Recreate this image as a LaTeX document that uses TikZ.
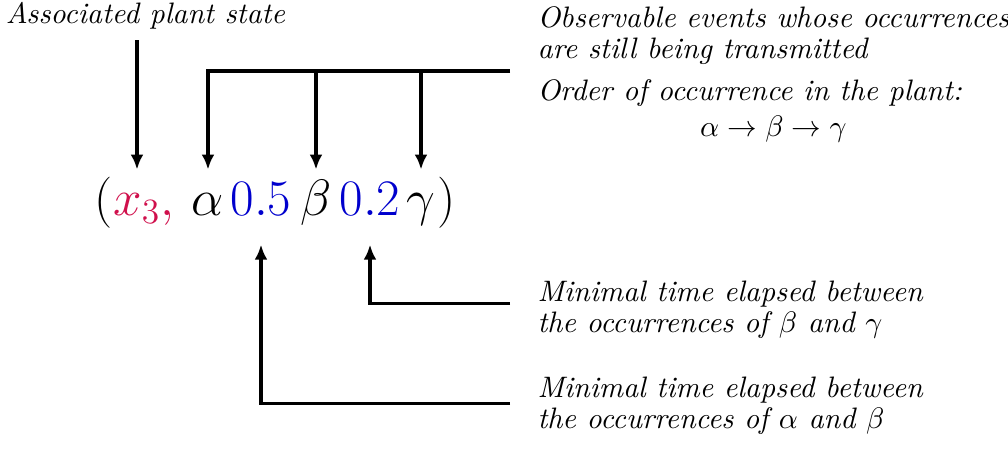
\documentclass[tikz,border=0pt]{standalone}
\usetikzlibrary{arrows.meta}
\definecolor{statecol}{RGB}{208,16,76}
\definecolor{timecol}{RGB}{0,0,205}
\tikzset{>={Latex[length=5pt,width=4.3pt]},
arr/.style={->,line width=1.15pt},
lbl/.style={font={\itshape\fontsize{10}{10.5}\selectfont}},
sym/.style={anchor=base,inner xsep=0pt,inner ysep=4pt,text height=11.5pt,text depth=5.5pt,
  font={\fontsize{16.8}{20}\selectfont}},
}
\begin{document}
\begin{tikzpicture}[x=0.3378pt,y=-0.3378pt]
\useasboundingbox (0,0) rectangle (1008,450);
\node[sym] (lp) at (104,216) {$($};
\node[sym,text=statecol] (x3) at (137,216) {$x_3$};
\node[sym,text=statecol] (cm) at (167,216) {$,$};
\node[sym] (al) at (208,216) {$\alpha$};
\node[sym,text=timecol] (n05) at (261,216) {$0.5$};
\node[sym] (be) at (316,216) {$\beta$};
\node[sym,text=timecol] (n02) at (370,216) {$0.2$};
\node[sym] (ga) at (421,216) {$\gamma$};
\node[sym] (rp) at (447,216) {$)$};

\node[lbl,anchor=base] (state) at (145.5,24) {Associated plant state};
\node[lbl,anchor=west,inner xsep=9.1pt,inner ysep=0pt] (obs) at (510,76)
  {\begin{tabular}{@{}l@{}}
   Observable events whose occurrences\\
   are still being transmitted\\[3.7pt]
   Order of occurrence in the plant:\\[1.7pt]
   \multicolumn{1}{@{}c@{}}{$\alpha\rightarrow\beta\rightarrow\gamma$}
   \end{tabular}};
\node[lbl,anchor=west,align=left,inner xsep=9.1pt] (gapbg) at (510,310.1)
  {Minimal time elapsed between\\the occurrences of $\beta$ and $\gamma$};
\node[lbl,anchor=west,align=left,inner xsep=9.1pt] (gapab) at (510,406.1)
  {Minimal time elapsed between\\the occurrences of $\alpha$ and $\beta$};
\coordinate (bar) at ([yshift=1.7pt]obs.west);

\draw[arr] (state.south -| x3.north) -- (x3.north);
\draw[arr] (bar) -| (al.north);
\draw[arr] (be.north |- bar) -- (be.north);
\draw[arr] (ga.north |- bar) -- (ga.north);
\draw[arr] ([yshift=2.3pt]gapbg.west) -| (n02.south);
\draw[arr] ([yshift=0.95pt]gapab.west) -| (n05.south);
\end{tikzpicture}
\end{document}
